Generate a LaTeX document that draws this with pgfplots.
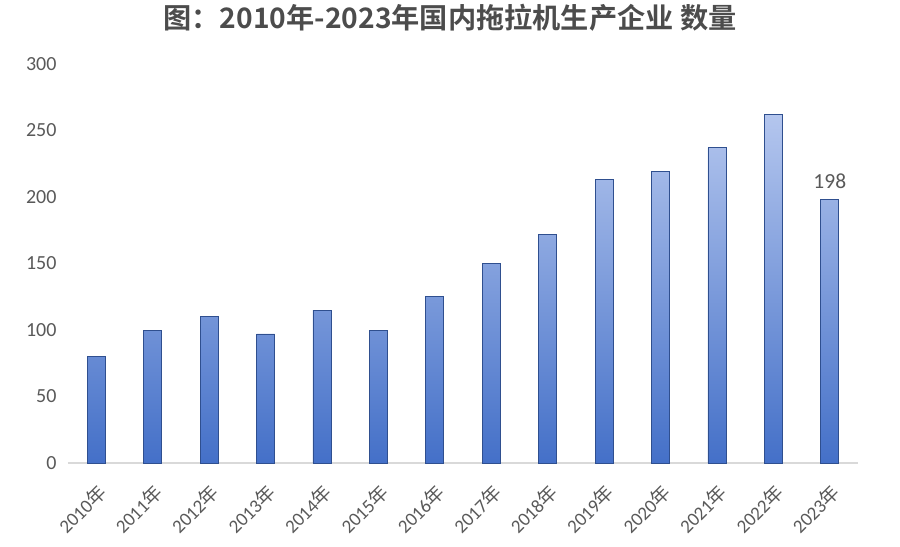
\documentclass[border=0pt]{standalone}
\usepackage{pgfplots}
\pgfplotsset{compat=1.18}
\usepackage{fontspec}
\setmainfont{Carlito}
\newfontfamily\cjk{Noto Sans CJK SC}
\newfontfamily\cjkb{Noto Sans CJK SC Bold}
\definecolor{txt}{HTML}{595959}
\definecolor{bartop}{HTML}{B4C6EE}
\definecolor{barbot}{HTML}{4470C8}
\definecolor{baredge}{HTML}{2F4F8F}
\definecolor{axisgray}{HTML}{D9D9D9}
\begin{document}
\begin{tikzpicture}
\useasboundingbox (-68bp,-84bp) rectangle (832bp,463bp);
\begin{axis}[
  at={(0,0)}, anchor=south west,
  scale only axis,
  width=790bp, height=399bp,
  xmin=-0.5, xmax=13.5,
  ymin=0, ymax=300,
  ytick={0,50,100,150,200,250,300},
  xtick={0,...,13},
  xticklabels={2010{\cjk 年},2011{\cjk 年},2012{\cjk 年},2013{\cjk 年},2014{\cjk 年},2015{\cjk 年},2016{\cjk 年},2017{\cjk 年},2018{\cjk 年},2019{\cjk 年},2020{\cjk 年},2021{\cjk 年},2022{\cjk 年},2023{\cjk 年}},
  /pgf/number format/assume math mode=true,
  axis line style={draw=none},
  major tick length=0pt,
  tick style={draw=none},
  yticklabel style={font=\fontsize{20bp}{24bp}\selectfont, text=txt, xshift=-8bp},
  xticklabel style={font=\fontsize{19bp}{23bp}\selectfont, text=txt, xshift=0bp, yshift=-18bp, rotate=45, anchor=north east, inner sep=1bp},
  ybar, bar width=18bp,
  clip=false,
]
\draw[axisgray, line width=1.2bp] (axis cs:-0.5,0) -- (axis cs:13.5,0);
\addplot[draw=baredge, line width=0.8bp, top color=bartop, bottom color=barbot] coordinates {
(0,80) (1,100) (2,110) (3,97) (4,115) (5,100) (6,125) (7,150) (8,172) (9,213) (10,219) (11,237) (12,262) (13,198)};
\node[above=7bp, font=\fontsize{21.5bp}{25bp}\selectfont, text=txt] at (axis cs:13,198) {198};
\end{axis}
\node[font=\fontsize{28.2bp}{34bp}\selectfont\cjkb, text=txt!85!black] at (382bp,445bp) {图：2010年-2023年国内拖拉机生产企业 数量};
\end{tikzpicture}
\end{document}
